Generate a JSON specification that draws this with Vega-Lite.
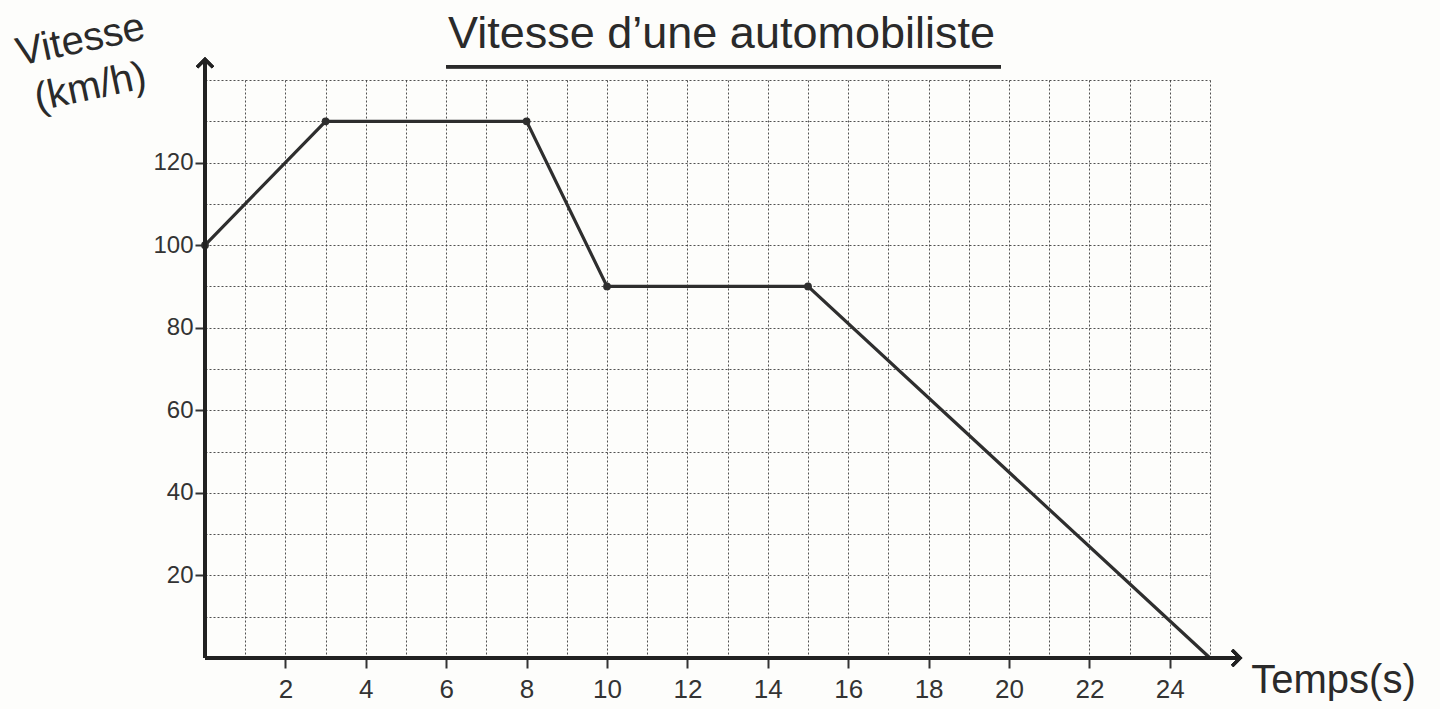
{
  "$schema": "https://vega.github.io/schema/vega-lite/v6.json",
  "autosize": {"type": "none"},
  "width": 1005,
  "height": 578,
  "padding": {"left": 205, "top": 80, "right": 230, "bottom": 51},
  "background": "#fdfdfb",
  "title": {
    "text": "Vitesse d’une automobiliste",
    "font": "Liberation Sans",
    "fontSize": 45,
    "fontWeight": "normal",
    "color": "#2a2a2a",
    "anchor": "middle",
    "offset": 22,
    "dx": 14,
    "dy": 72
  },
  "config": {
    "view": {"stroke": null},
    "font": "Liberation Sans"
  },
  "data": {
    "values": [
      {"temps": 0, "vitesse": 100},
      {"temps": 3, "vitesse": 130},
      {"temps": 8, "vitesse": 130},
      {"temps": 10, "vitesse": 90},
      {"temps": 15, "vitesse": 90},
      {"temps": 25, "vitesse": 0}
    ]
  },
  "layer": [
    {
      "mark": {"type": "line", "color": "#2e2e2e", "strokeWidth": 3.2},
      "encoding": {
        "x": {
          "field": "temps", "type": "quantitative",
          "scale": {"domain": [0, 25], "nice": false, "zero": true},
          "axis": {
            "values": [0,1,2,3,4,5,6,7,8,9,10,11,12,13,14,15,16,17,18,19,20,21,22,23,24,25],
            "grid": true,
            "gridColor": "#333",
            "gridDash": [2, 2],
            "gridWidth": 1,
            "gridOpacity": 0.85,
            "domain": false,
            "tickColor": "#333",
            "tickWidth": 2,
            "tickSize": 10,
            "tickOpacity": {"condition": {"test": "datum.value % 2 == 0 && datum.value > 0 && datum.value < 25", "value": 1}, "value": 0},
            "labelExpr": "datum.value % 2 == 0 && datum.value > 0 && datum.value < 25 ? datum.label : ''",
            "labelFontSize": 26,
            "labelColor": "#333",
            "labelPadding": 8,
            "title": "Temps(s)",
            "titleFontSize": 40,
            "titleFontWeight": "normal",
            "titleColor": "#2a2a2a",
            "titleX": 1128,
            "titleY": 22,
            "titleAlign": "center",
            "titleBaseline": "middle"
          }
        },
        "y": {
          "field": "vitesse", "type": "quantitative",
          "scale": {"domain": [0, 140], "nice": false},
          "axis": {
            "values": [0,10,20,30,40,50,60,70,80,90,100,110,120,130,140],
            "grid": true,
            "gridColor": "#333",
            "gridDash": [2, 2],
            "gridWidth": 1,
            "gridOpacity": 0.85,
            "domain": false,
            "tickColor": "#333",
            "tickWidth": 2,
            "tickSize": 10,
            "tickOpacity": {"condition": {"test": "datum.value % 20 == 0 && datum.value > 0 && datum.value < 140", "value": 1}, "value": 0},
            "labelExpr": "datum.value % 20 == 0 && datum.value > 0 && datum.value < 140 ? datum.label : ''",
            "labelFontSize": 24,
            "labelColor": "#333",
            "labelPadding": 2,
            "title": ["Vitesse", "(km/h)"],
            "titleFontSize": 40,
            "titleFontWeight": "normal",
            "titleColor": "#2a2a2a",
            "titleAngle": -12,
            "titleX": -125,
            "titleY": -40,
            "titleAlign": "center",
            "titleBaseline": "middle",
            "titleLineHeight": 48
          }
        }
      }
    },
    {
      "mark": {"type": "point", "filled": true, "color": "#2e2e2e", "size": 60, "opacity": 1},
      "transform": [{"filter": "datum.temps < 25"}],
      "encoding": {
        "x": {"field": "temps", "type": "quantitative"},
        "y": {"field": "vitesse", "type": "quantitative"}
      }
    },
    {
      "mark": {"type": "rule", "color": "#222", "strokeWidth": 3.5, "clip": false},
      "encoding": {
        "x": {"datum": 0},
        "x2": {"datum": 25.75},
        "y": {"datum": 0}
      }
    },
    {
      "mark": {"type": "rule", "color": "#222", "strokeWidth": 3.5, "clip": false},
      "encoding": {
        "x": {"datum": 0},
        "y": {"datum": 0},
        "y2": {"datum": 145}
      }
    },
    {
      "mark": {"type": "rule", "color": "#2a2a2a", "strokeWidth": 3, "clip": false},
      "encoding": {
        "x": {"datum": 6.0},
        "x2": {"datum": 19.8},
        "y": {"datum": 143.2}
      }
    },
    {
      "mark": {"type": "point", "shape": "M-1,-1L0,0L-1,1", "filled": false, "color": "#222", "strokeWidth": 3, "size": 250, "opacity": 1, "clip": false},
      "encoding": {
        "x": {"datum": 25.75},
        "y": {"datum": 0}
      }
    },
    {
      "mark": {"type": "point", "shape": "M-1,1L0,0L1,1", "filled": false, "color": "#222", "strokeWidth": 3, "size": 250, "opacity": 1, "clip": false},
      "encoding": {
        "x": {"datum": 0},
        "y": {"datum": 145}
      }
    }
  ]
}
